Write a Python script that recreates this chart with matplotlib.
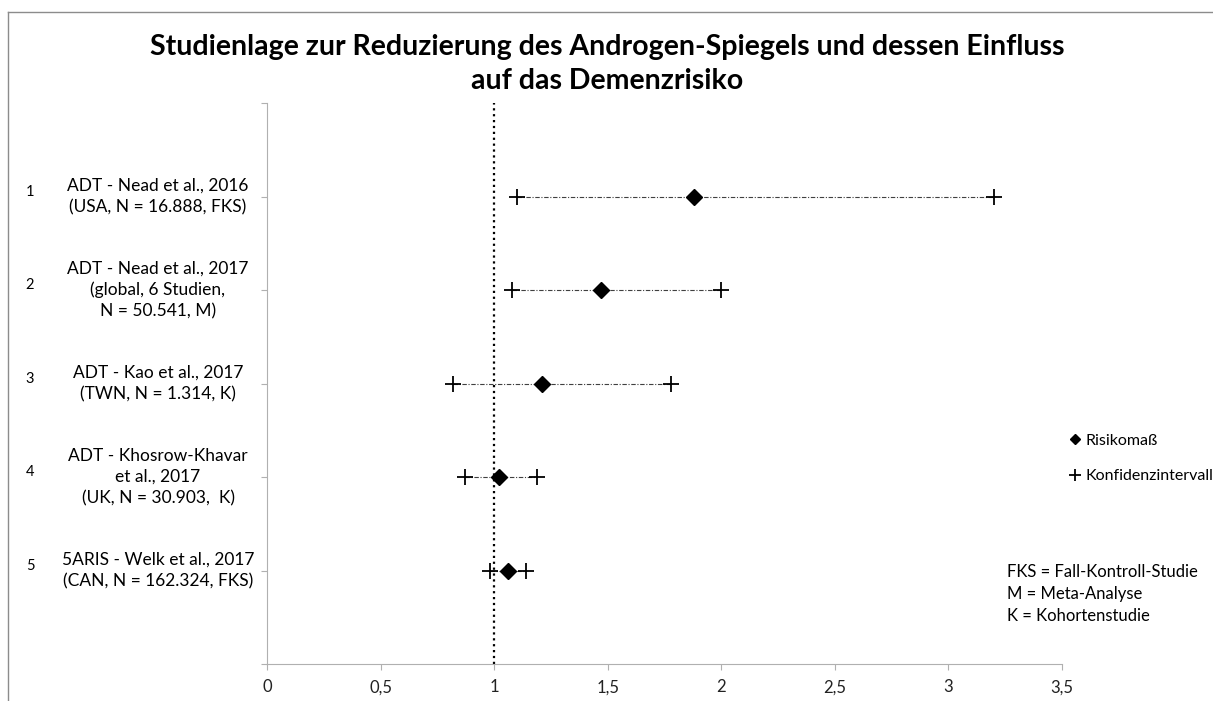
import numpy as np
import matplotlib.pyplot as plt
from matplotlib.lines import Line2D
from matplotlib.transforms import blended_transform_factory

plt.rcParams['font.family'] = ['Lato', 'DejaVu Sans']

# data
nums = ['1', '2', '3', '4', '5']
studies = ['ADT - Nead et al., 2016\n(USA, N = 16.888, FKS)',
           'ADT - Nead et al., 2017\n(global, 6 Studien,\nN = 50.541, M)',
           'ADT - Kao et al., 2017\n(TWN, N = 1.314, K)',
           'ADT - Khosrow-Khavar\net al., 2017\n(UK, N = 30.903,  K)',
           '5ARIS - Welk et al., 2017\n(CAN, N = 162.324, FKS)']
risk = [1.88, 1.47, 1.21, 1.02, 1.06]
ci_low = [1.10, 1.08, 0.82, 0.87, 0.98]
ci_high = [3.20, 2.00, 1.78, 1.19, 1.14]
ypos = [5, 4, 3, 2, 1]
xticks = [0, 0.5, 1, 1.5, 2, 2.5, 3, 3.5]
xticklabels = ['0', '0,5', '1', '1,5', '2', '2,5', '3', '3,5']

W, H = 1213, 701
fig = plt.figure(figsize=(W / 100, H / 100), dpi=100)
ax = fig.add_axes([267 / W, 1 - 664 / H, (1062 - 267) / W, (664 - 103) / H])

# grey frame (cropped on right/bottom)
fig.add_artist(Line2D([8 / W, 8 / W], [1 - 12 / H, -0.1], transform=fig.transFigure, color='#8c8c8c', lw=1))
fig.add_artist(Line2D([8 / W, 1.1], [1 - 12 / H, 1 - 12 / H], transform=fig.transFigure, color='#8c8c8c', lw=1))

ax.axvline(1, color='black', ls=':', lw=1.6, zorder=1)

for i in range(len(risk)):
    ax.plot([ci_low[i], ci_high[i]], [ypos[i], ypos[i]], color='#404040', lw=0.8,
            dashes=(4, 1.5, 1, 1.5), zorder=2)
ax.plot(ci_low, ypos, ls='none', marker='+', ms=11, mew=1.3, color='black', zorder=3)
ax.plot(ci_high, ypos, ls='none', marker='+', ms=11, mew=1.3, color='black', zorder=3)
ax.plot(risk, ypos, ls='none', marker='D', ms=8.5, color='black', zorder=4)

ax.set_xlim(0, 3.5)
ax.set_ylim(0, 6)
ax.set_xticks(xticks)
ax.set_xticklabels(xticklabels)
ax.set_yticks(range(7))
ax.set_yticklabels([])
for s in ['top', 'right']:
    ax.spines[s].set_visible(False)
for s in ['left', 'bottom']:
    ax.spines[s].set_color('#b0b0b0')
ax.tick_params(axis='both', color='#b0b0b0', length=4, width=0.8, labelsize=12,
               labelcolor='#222222', pad=7)

tr = blended_transform_factory(fig.transFigure, ax.transData)
for i in range(len(studies)):
    ax.text(30 / W, ypos[i] + 0.05, nums[i], transform=tr, ha='center', va='center', fontsize=10.5)
    ax.text(158 / W, ypos[i], studies[i], transform=tr, ha='center', va='center',
            fontsize=12.5, linespacing=1.4, clip_on=False)

fig.text(607 / W, 1 - 64 / H,
         'Studienlage zur Reduzierung des Androgen-Spiegels und dessen Einfluss\nauf das Demenzrisiko',
         ha='center', va='center', fontsize=20.5, fontweight='bold', linespacing=1.35)

handles = [Line2D([], [], ls='none', marker='D', ms=5, color='black'),
           Line2D([], [], ls='none', marker='+', ms=9, mew=1.3, color='black')]
fig.legend(handles, ['Risikomaß', 'Konfidenzintervall'], loc='upper left',
           bbox_to_anchor=(1062 / W, 1 - 427 / H), frameon=False, fontsize=11.5,
           handlelength=0.8, handletextpad=0.3, labelspacing=1.35, borderaxespad=0)

fig.text(1007 / W, 1 - 594 / H, 'FKS = Fall-Kontroll-Studie\nM = Meta-Analyse\nK = Kohortenstudie',
         ha='left', va='center', fontsize=12, linespacing=1.45)

fig.savefig('out.png', dpi=100)
